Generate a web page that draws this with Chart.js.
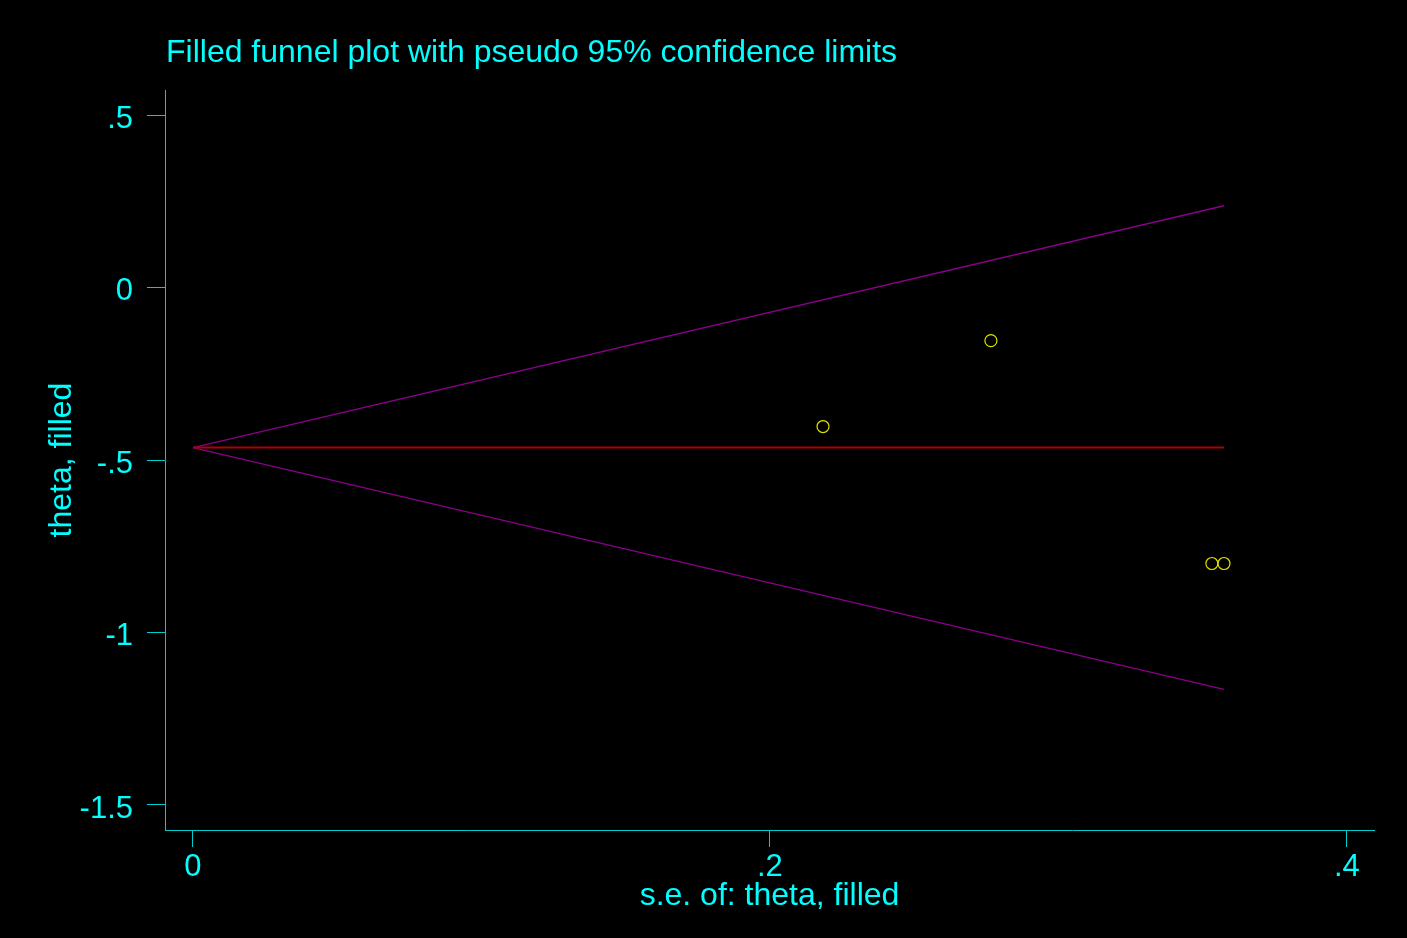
<!DOCTYPE html>
<html>
<head>
<meta charset="utf-8">
<script src="https://cdn.jsdelivr.net/npm/chart.js@4/dist/chart.umd.min.js"></script>
<style>
html,body{margin:0;padding:0;background:#000;}
canvas{display:block;}
</style>
</head>
<body>
<canvas id="c" width="1407" height="938"></canvas>
<script>
// Study points
const seValues = [0.2184, 0.2766, 0.3532, 0.3574];
const thetaValues = [-0.403, -0.154, -0.800, -0.800];
// Pooled estimate line and pseudo 95% limits (endpoints)
const lineSE = [0, 0.3574];
const pooledLine = [-0.464, -0.464];
const upperLimit = [-0.464, 0.237];
const lowerLimit = [-0.464, -1.165];
// Ticks
const xTicks = [0, 0.2, 0.4];
const xTickLabels = ['0', '.2', '.4'];
const yTicks = [-1.5, -1, -0.5, 0, 0.5];
const yTickLabels = ['-1.5', '-1', '-.5', '0', '.5'];
// Texts
const chartTitle = 'Filled funnel plot with pseudo 95% confidence limits';
const xTitle = 's.e. of: theta, filled';
const yTitle = 'theta, filled';

const CYAN = '#00ffff';
const AXIS = '#00cccc';
const FONT = "'Liberation Sans', Arial, sans-serif";

const pts = (xs, ys) => xs.map((x, i) => ({x: x, y: ys[i]}));

const bgPlugin = {
  id: 'bg',
  beforeDraw(chart) {
    const ctx = chart.ctx;
    ctx.save();
    ctx.fillStyle = '#000';
    ctx.fillRect(0, 0, chart.width, chart.height);
    ctx.restore();
  },
  afterDraw(chart) {
    const ctx = chart.ctx;
    ctx.save();
    ctx.fillStyle = CYAN;
    ctx.font = '32px ' + FONT;
    ctx.textBaseline = 'alphabetic';
    ctx.textAlign = 'left';
    ctx.fillText(chartTitle, 166, 62);
    ctx.restore();
  }
};

new Chart(document.getElementById('c'), {
  type: 'scatter',
  data: {
    datasets: [
      {
        label: 'studies',
        data: pts(seValues, thetaValues),
        showLine: false,
        pointStyle: 'circle',
        pointRadius: 6,
        pointBorderWidth: 1.2,
        pointBorderColor: '#e0e000',
        pointBackgroundColor: 'rgba(0,0,0,0)',
        order: 0
      },
      {
        label: 'pooled',
        data: pts(lineSE, pooledLine),
        showLine: true,
        borderColor: '#b00000',
        borderWidth: 2,
        pointRadius: 0,
        order: 1
      },
      {
        label: 'upper',
        data: pts(lineSE, upperLimit),
        showLine: true,
        borderColor: '#8a008a',
        borderWidth: 1.3,
        pointRadius: 0,
        order: 2
      },
      {
        label: 'lower',
        data: pts(lineSE, lowerLimit),
        showLine: true,
        borderColor: '#8a008a',
        borderWidth: 1.3,
        pointRadius: 0,
        order: 2
      }
    ]
  },
  options: {
    responsive: false,
    animation: false,
    devicePixelRatio: 1,
    layout: {padding: {left: 0, top: 90, right: 33, bottom: 0}},
    plugins: {
      legend: {display: false},
      title: {display: false},
      tooltip: {enabled: false}
    },
    scales: {
      x: {
        type: 'linear',
        position: 'bottom',
        min: -0.0097,
        max: 0.4094,
        afterFit(s) { s.height = 108; },
        afterBuildTicks(s) { s.ticks = xTicks.map(v => ({value: v})); },
        grid: {display: true, drawOnChartArea: false, drawTicks: true, tickLength: 17, tickColor: AXIS, tickWidth: 1},
        border: {display: true, color: AXIS, width: 1},
        ticks: {
          color: CYAN,
          font: {family: FONT, size: 31},
          padding: 2,
          maxRotation: 0,
          autoSkip: false,
          callback: (v, i) => xTickLabels[i]
        },
        title: {
          display: true,
          text: xTitle,
          color: CYAN,
          font: {family: FONT, size: 32, lineHeight: 1.2},
          padding: {top: 0, bottom: 23}
        }
      },
      y: {
        type: 'linear',
        position: 'left',
        min: -1.5725,
        max: 0.5725,
        afterFit(s) { s.width = 165; },
        afterBuildTicks(s) { s.ticks = yTicks.map(v => ({value: v})); },
        grid: {display: true, drawOnChartArea: false, drawTicks: true, tickLength: 18, tickColor: AXIS, tickWidth: 1},
        border: {display: true, color: AXIS, width: 1},
        ticks: {
          color: CYAN,
          font: {family: FONT, size: 31},
          padding: 14,
          labelOffset: 4,
          autoSkip: false,
          callback: (v, i) => yTickLabels[i]
        },
        title: {
          display: true,
          text: yTitle,
          color: CYAN,
          font: {family: FONT, size: 32, lineHeight: 1.2},
          padding: {top: 43, bottom: 0}
        }
      }
    }
  },
  plugins: [bgPlugin]
});
</script>
</body>
</html>
